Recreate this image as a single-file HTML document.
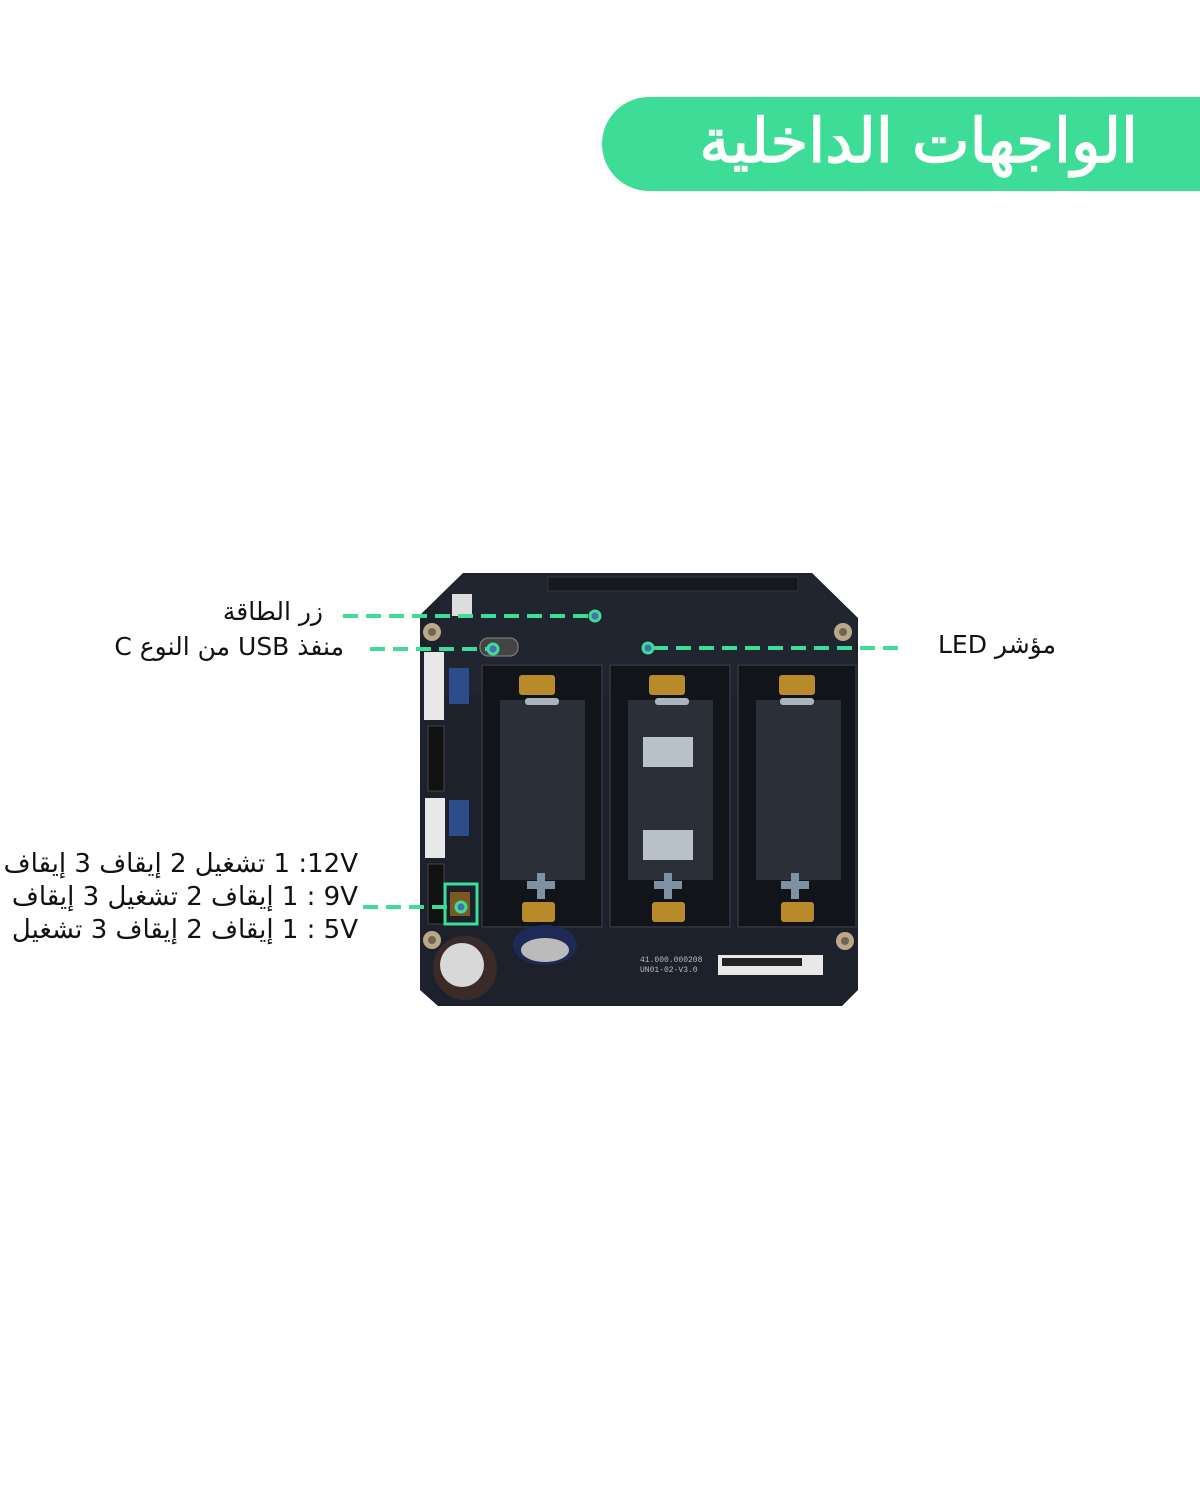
<!DOCTYPE html>
<html><head><meta charset="utf-8"><style>
html,body{margin:0;padding:0;background:#fff;}
body{width:1200px;height:1500px;position:relative;overflow:hidden;font-family:"Liberation Sans","Noto Sans CJK SC","DejaVu Sans",sans-serif;}
.pill{position:absolute;left:602px;top:97px;width:620px;height:94px;background:#3ddc97;border-radius:47px 0 0 47px;}
.title{position:absolute;right:62px;top:100px;color:#fff;font-size:61px;font-weight:normal;direction:rtl;line-height:84px;font-family:"DejaVu Sans",sans-serif;-webkit-text-stroke:1.5px #fff;}
.lbl{position:absolute;color:#111;font-size:25px;direction:rtl;white-space:nowrap;line-height:30px;font-family:"DejaVu Sans",sans-serif;}
.sw{position:absolute;right:842px;color:#111;font-size:26px;white-space:nowrap;line-height:33px;font-family:"DejaVu Sans",sans-serif;display:flex;}
.sw .a{direction:rtl}
</style></head><body>
<div class="pill"></div>
<div class="title">الواجهات الداخلية</div>

<svg width="1200" height="1500" style="position:absolute;left:0;top:0">
<polygon points="463,573 812,573 858,618 858,990 842,1006 438,1006 420,990 420,615" fill="#1c212c"/>
<polygon points="463,575 812,575 856,618 856,695 440,695 440,598" fill="#20252f"/>
<rect x="548" y="577" width="250" height="14" fill="#15181f" stroke="#333" />
<g fill="#b9a88a"><circle cx="432" cy="632" r="9"/><circle cx="843" cy="632" r="9"/><circle cx="432" cy="940" r="9"/><circle cx="845" cy="941" r="9"/></g>
<g fill="#6e6553"><circle cx="432" cy="632" r="4"/><circle cx="843" cy="632" r="4"/><circle cx="432" cy="940" r="4"/><circle cx="845" cy="941" r="4"/></g>
<rect x="424" y="652" width="20" height="68" fill="#e8e8e8"/>
<rect x="425" y="798" width="20" height="60" fill="#e8e8e8"/>
<rect x="428" y="726" width="16" height="65" fill="#111" stroke="#444"/>
<rect x="428" y="864" width="16" height="60" fill="#111" stroke="#444"/>
<rect x="449" y="668" width="20" height="36" fill="#2d4d8a"/>
<rect x="449" y="800" width="20" height="36" fill="#2d4d8a"/>
<rect x="452" y="594" width="20" height="22" fill="#ddd"/>
<g fill="#111419" stroke="#2a2f38" stroke-width="2">
<rect x="482" y="665" width="120" height="262"/>
<rect x="610" y="665" width="120" height="262"/>
<rect x="738" y="665" width="118" height="262"/>
</g>
<g fill="#2a2f38">
<rect x="500" y="700" width="85" height="180"/>
<rect x="628" y="700" width="85" height="180"/>
<rect x="756" y="700" width="85" height="180"/>
</g>
<rect x="643" y="737" width="50" height="30" fill="#b8c0c8"/>
<rect x="643" y="830" width="50" height="30" fill="#b8c0c8"/>
<g fill="#b88a2a">
<rect x="519" y="675" width="36" height="20" rx="3"/><rect x="649" y="675" width="36" height="20" rx="3"/><rect x="779" y="675" width="36" height="20" rx="3"/>
<rect x="522" y="902" width="33" height="20" rx="3"/><rect x="652" y="902" width="33" height="20" rx="3"/><rect x="781" y="902" width="33" height="20" rx="3"/>
</g>
<g fill="#aab4bc"><rect x="525" y="698" width="34" height="7" rx="3"/><rect x="655" y="698" width="34" height="7" rx="3"/><rect x="780" y="698" width="34" height="7" rx="3"/></g>
<g fill="#7d93a3">
<rect x="537" y="873" width="8" height="26"/><rect x="527" y="881" width="28" height="8"/>
<rect x="664" y="873" width="8" height="26"/><rect x="654" y="881" width="28" height="8"/>
<rect x="791" y="873" width="8" height="26"/><rect x="781" y="881" width="28" height="8"/>
</g>
<circle cx="465" cy="968" r="32" fill="#3a2a28"/>
<circle cx="462" cy="965" r="22" fill="#d8d8d8"/>
<ellipse cx="545" cy="945" rx="32" ry="20" fill="#1e2a55"/>
<ellipse cx="545" cy="950" rx="24" ry="12" fill="#bbb"/>
<rect x="718" y="955" width="105" height="20" fill="#e8e8e8"/>
<g fill="#222"><rect x="722" y="958" width="80" height="8"/></g>
<text x="640" y="962" font-size="8" fill="#bbb" font-family="Liberation Mono">41.000.000208</text>
<text x="640" y="972" font-size="8" fill="#bbb" font-family="Liberation Mono">UN01-02-V3.0</text>
<rect x="480" y="638" width="38" height="18" rx="8" fill="#444" stroke="#888"/>
<rect x="445" y="884" width="32" height="40" fill="none" stroke="#3ddc97" stroke-width="3"/>
<rect x="450" y="892" width="20" height="24" fill="#7a5a20"/>
<g stroke="#3ddc97" stroke-width="4" stroke-dasharray="15 8" fill="none">
<line x1="343" y1="616" x2="590" y2="616"/>
<line x1="370" y1="649" x2="488" y2="649"/>
<line x1="653" y1="648" x2="900" y2="648"/>
<line x1="363" y1="907" x2="455" y2="907"/>
</g>
<g fill="#4a6fb0" stroke="#3ddc97" stroke-width="3">
<circle cx="595" cy="616" r="5"/><circle cx="493" cy="649" r="5"/><circle cx="648" cy="648" r="5"/><circle cx="461" cy="907" r="5"/>
</g>
</svg>

<div class="lbl" style="right:877px;top:597px">زر الطاقة</div>
<div class="lbl" style="right:856px;top:632px">منفذ USB من النوع C</div>
<div class="lbl" style="left:938px;top:630px">مؤشر LED</div>

<div class="sw" style="top:848px"><span class="a">تشغيل 2 إيقاف 3 إيقاف</span><span>&nbsp;1 :12V</span></div>
<div class="sw" style="top:881px"><span class="a">إيقاف 2 تشغيل 3 إيقاف</span><span>&nbsp;1 : 9V</span></div>
<div class="sw" style="top:914px"><span class="a">إيقاف 2 إيقاف 3 تشغيل</span><span>&nbsp;1 : 5V</span></div>
</body></html>
